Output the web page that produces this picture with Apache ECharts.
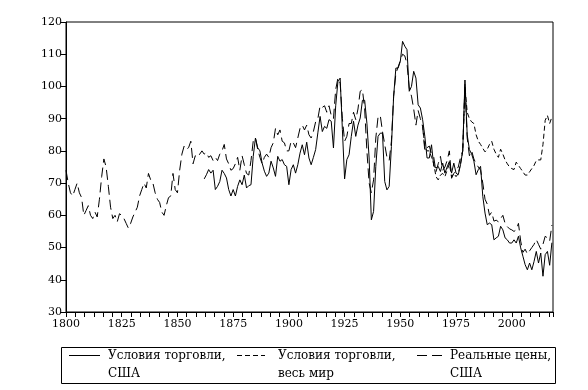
<!DOCTYPE html>
<html><head><meta charset="utf-8">
<script src="https://cdn.jsdelivr.net/npm/echarts@6/dist/echarts.min.js"></script>
<style>html,body{margin:0;padding:0;background:#fff}#c{width:588px;height:390px}</style>
</head><body><div id="c"></div>
<script>
// X tick labels (years) and Y tick labels
const xTickLabels = [1800, 1825, 1850, 1875, 1900, 1925, 1950, 1975, 2000];
const yTickLabels = [30, 40, 50, 60, 70, 80, 90, 100, 110, 120];

const seriesNames = ['Условия торговли, США', 'Условия торговли, весь мир', 'Реальные цены, США'];

// Terms of trade, USA (solid), annual from 1862
const usTotStart = 1862;
const usTot = [
  71.3, 72.6, 74.2, 73.1, 74, 68, 69, 70.5,
  74, 73, 71.6, 68, 66, 68, 66, 69, 71, 69.5,
  72.5, 68.5, 69.2, 69.5, 78.3, 84, 81, 80, 76.2, 73.7,
  72.1, 73.1, 76.8, 74.7, 72.1, 78.3, 76.8, 77.3, 75.7, 75.2,
  69.5, 74.2, 75.7, 73.1, 75.7, 79.3, 81.9, 78.8, 82.7, 77.8,
  75.7, 78, 80.4, 85.6, 90.7, 86, 87.6, 87, 89.7, 89.2,
  80.9, 94, 101.5, 102.6, 86.6, 71.3, 77.3, 78.8, 84.5, 89.2,
  84.5, 88, 90.2, 95.7, 95.7, 88.6, 77.8, 58.6, 61.2, 75.2,
  84.5, 85.5, 85.5, 70.5, 67.9, 69, 81.4, 96.9, 105.7, 105.7,
  107.8, 114, 112.5, 111.4, 98.5, 100, 104.7, 102.6, 94.3, 93.3,
  89.7, 84.5, 77.8, 77.8, 81.9, 75.2, 74.7, 75.2, 73.6, 76.2,
  73.1, 75, 76.7, 73.1, 76.2, 73.1, 72.6, 75.7, 80, 102,
  85, 80.4, 79, 76.8, 72.6, 74.2, 75.2, 65.9, 60.7, 57.1,
  57.6, 57.1, 52.4, 53, 53.5, 56.6, 55.5, 53, 52.4, 51.4,
  51.4, 52.4, 51.4, 53.5, 49.9, 47.3, 44.7, 43.1, 45.2, 43.1,
  45.7, 48.8, 45.2, 48.3, 41.1, 47.8, 48.8, 44.5, 51.5
];

// Terms of trade, world (short dash), annual from 1960
const worldTotStart = 1960;
const worldTot = [
  88, 81, 80, 80, 78, 76, 72, 71, 72.5, 73,
  72, 74, 76, 72, 73, 72, 73, 76, 80, 100,
  92, 90, 89, 88.5, 85, 83, 82, 80.8, 79.7, 80.5,
  82, 83, 80.5, 79, 78, 80.5, 79, 77.2, 76, 75,
  74.5, 74.2, 76.5, 75.5, 74.5, 73.5, 72.5, 72.5, 73.5, 74.5,
  75.5, 77, 77.2, 77.2, 82, 89.5, 91, 88.5, 90.5
];

// Real prices, USA (long dash), annual from 1800
const realPricesStart = 1800;
const realPrices = [
  74, 70, 67, 66, 68, 70, 67, 65.5, 60, 61.5,
  63, 60, 59, 61, 59.5, 65, 72, 77.5, 75, 69,
  62.5, 59, 60, 58, 60.5, 60, 59, 57.5, 56, 57.5,
  59.5, 61, 62.5, 66, 68, 70, 68.5, 73, 71, 70,
  67, 65, 64, 61, 60, 63, 65.5, 66, 73, 68,
  67, 74, 79, 81.5, 80.5, 81, 83, 76, 78.5, 78,
  79, 80, 79, 79.5, 78, 78.5, 77, 78, 77, 79,
  80, 82, 77.5, 76, 74, 74.5, 76, 78, 74, 78.5,
  75.7, 73, 72.5, 77, 83, 84, 80.5, 78, 76, 78,
  79, 78, 81, 82.5, 87, 85, 86.5, 83, 82.5, 80,
  80, 83, 82.5, 81, 84, 87, 88, 86.5, 88, 85,
  84, 86, 89, 90, 94, 93.5, 94, 92, 94, 91,
  90, 99, 102.6, 101, 90, 83, 84.5, 88.5, 88.5, 92,
  89.7, 93, 98.5, 99, 93, 80, 70, 67, 71, 84,
  90.5, 91, 86, 82, 78, 77, 83, 97, 104, 106,
  108, 110, 109.5, 107, 99.5, 97, 93, 88, 92.5, 90,
  87.6, 80, 81, 81.5, 79, 78, 73.5, 76, 78.3, 74,
  75, 77, 80, 71.5, 73, 74, 75, 78, 80, 101,
  84, 78.5, 80, 77.5, 76, 75, 74, 70, 65, 63.5,
  60, 61, 58.2, 58.5, 58, 59, 60, 57.5, 56.5, 55.8,
  55.5, 55, 55.5, 57.5, 52, 48.5, 49.5, 48, 49, 50,
  51, 52.5, 51, 49.5, 51, 53.5, 53, 52, 57
];

const toPairs = (start, vals) => vals.map((v, i) => [start + i, v]);

const FONT = 'DejaVu Serif';
const X_MIN = 1800, X_MAX = 2018.5;
const TICK_STEP = 25 / 6; // six tick marks per labelled 25-year step

// legend layout (styling only)
const LEG_Y1 = 355.5, LEG_Y2 = 374;
const legendItems = [
  { name: seriesNames[0], x1: 69, x2: 100, tx: 108, dash: null },
  { name: seriesNames[1], x1: 237, x2: 265, tx: 278, dash: [5, 3] },
  { name: seriesNames[2], x1: 417, x2: 442, tx: 450, dash: [10, 5] }
];
const legendGraphics = [{
  type: 'rect', shape: { x: 61.5, y: 347.5, width: 494, height: 36 },
  style: { fill: 'none', stroke: '#000', lineWidth: 1 }, silent: true
}];
legendItems.forEach(it => {
  const parts = it.name.split(', ');
  legendGraphics.push({
    type: 'line', shape: { x1: it.x1, y1: LEG_Y1, x2: it.x2, y2: LEG_Y1 },
    style: { stroke: '#000', lineWidth: 1, lineDash: it.dash || null }, silent: true
  });
  legendGraphics.push({
    type: 'text', x: it.tx, y: LEG_Y1,
    style: { text: parts[0] + ',', fill: '#000', font: '12px "DejaVu Serif"', verticalAlign: 'middle', align: 'left' }, silent: true
  });
  legendGraphics.push({
    type: 'text', x: it.tx, y: LEG_Y2,
    style: { text: parts[1], fill: '#000', font: '12px "DejaVu Serif"', verticalAlign: 'middle', align: 'left' }, silent: true
  });
});

const chart = echarts.init(document.getElementById('c'), null, { renderer: 'canvas' });
chart.setOption({
  animation: false,
  backgroundColor: '#fff',
  grid: { left: 66, right: 35, top: 22, bottom: 78, show: true, borderColor: '#000', borderWidth: 1, backgroundColor: 'transparent' },
  xAxis: [{
    type: 'value', min: X_MIN, max: X_MAX, interval: 25,
    axisLine: { show: true, lineStyle: { color: '#000', width: 1 } },
    axisTick: { show: false },
    axisLabel: {
      margin: 7, color: '#000', fontFamily: FONT, fontSize: 11,
      showMaxLabel: false,
      formatter: v => xTickLabels.includes(Math.round(v)) ? String(Math.round(v)) : ''
    },
    splitLine: { show: false }
  }, {
    // tick-only companion axis
    type: 'value', position: 'bottom', min: X_MIN, max: X_MAX, interval: TICK_STEP,
    axisLine: { show: false },
    axisTick: { show: true, length: 5, inside: false, lineStyle: { color: '#000', width: 1 } },
    axisLabel: { show: false },
    splitLine: { show: false }
  }],
  yAxis: {
    type: 'value', min: yTickLabels[0], max: yTickLabels[yTickLabels.length - 1], interval: 10,
    axisLine: { show: true, lineStyle: { color: '#000', width: 1 } },
    axisTick: { show: true, length: 5, inside: false, lineStyle: { color: '#000' } },
    axisLabel: { margin: 4, color: '#000', fontFamily: FONT, fontSize: 11 },
    splitLine: { show: false }
  },
  graphic: legendGraphics,
  series: [
    { name: seriesNames[0], type: 'line', symbol: 'none', data: toPairs(usTotStart, usTot),
      lineStyle: { color: '#000', width: 1, type: 'solid' }, itemStyle: { color: '#000' }, z: 3 },
    { name: seriesNames[1], type: 'line', symbol: 'none', data: toPairs(worldTotStart, worldTot),
      lineStyle: { color: '#000', width: 1, type: [5, 3] }, itemStyle: { color: '#000' }, z: 2 },
    { name: seriesNames[2], type: 'line', symbol: 'none', data: toPairs(realPricesStart, realPrices),
      lineStyle: { color: '#000', width: 1, type: [10, 5] }, itemStyle: { color: '#000' }, z: 2 }
  ]
});
</script>
</body></html>
